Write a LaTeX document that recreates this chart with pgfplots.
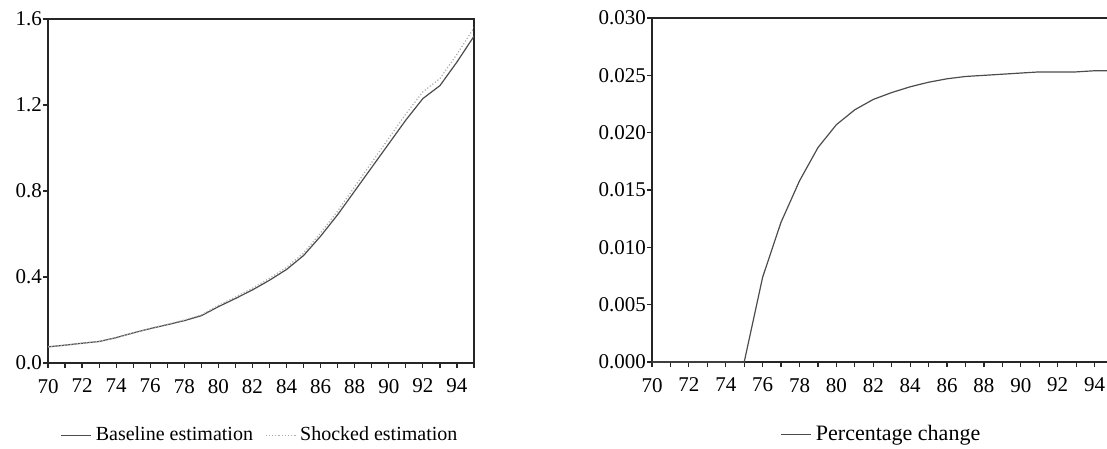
\documentclass[border=0pt]{standalone}
\usepackage{pgfplots}
\pgfplotsset{compat=1.18}
\usepackage{fontspec}
\setmainfont{Liberation Serif}
\pgfplotstableread{
year base shock
70 0.075 0.075
71 0.083 0.083
72 0.092 0.092
73 0.100 0.100
74 0.118 0.118
75 0.140 0.140
76 0.160 0.161
77 0.178 0.180
78 0.197 0.200
79 0.220 0.224
80 0.262 0.268
81 0.300 0.307
82 0.340 0.348
83 0.385 0.394
84 0.435 0.445
85 0.500 0.512
86 0.590 0.605
87 0.690 0.707
88 0.800 0.820
89 0.910 0.933
90 1.020 1.046
91 1.130 1.158
92 1.230 1.261
93 1.290 1.323
94 1.400 1.436
95 1.520 1.559
}\levels
\pgfplotstableread{
year pc
70 0
71 0
72 0
73 0
74 0
75 0
76 0.0074
77 0.0122
78 0.0158
79 0.0187
80 0.0207
81 0.0220
82 0.0229
83 0.0235
84 0.0240
85 0.0244
86 0.0247
87 0.0249
88 0.0250
89 0.0251
90 0.0252
91 0.0253
92 0.0253
93 0.0253
94 0.0254
95 0.0254
}\pct
\definecolor{ln}{gray}{0.30}
\definecolor{ax}{gray}{0.15}
\pgfplotsset{
  evstyle/.style={
    scale only axis,
    axis line style={ax, line width=0.7pt},
    xmin=70, ymin=0,
    xtick={70,72,...,94},
    minor xtick={71,73,...,95},
    tick pos=left,
    tick align=outside,
    major tick length=2.5pt,
    minor tick length=2.5pt,
    every tick/.style={ax, line width=0.6pt},
    /pgf/number format/assume math mode=true,
    tick label style={font=\fontsize{10.5}{12}\selectfont},
    xticklabel style={yshift=-2pt},
    yticklabel style={xshift=3pt},
    scaled y ticks=false,
    legend style={draw=none, fill=none, legend columns=2,
      /tikz/every even column/.append style={column sep=4pt}},
    legend image code/.code={\draw[##1] (0pt,0pt) -- (15pt,0pt);},
  }
}
\begin{document}
\begin{tikzpicture}
\path[use as bounding box] (0pt,0pt) rectangle (553.5pt,-224.5pt);
\begin{axis}[evstyle,
  at={(24pt,-181.5pt)}, anchor=south west,
  width=213pt, height=172pt,
  xmax=95,
  ymax=1.6, ytick={0,0.4,...,1.6},
  yticklabel style={/pgf/number format/.cd, fixed, fixed zerofill, precision=1},
  legend style={at={(0.5,-0.21)}, anchor=center, font=\fontsize{10}{12}\selectfont},
]
\addplot[ln, line width=0.6pt] table[x=year, y=base] {\levels};
\addlegendentry{Baseline estimation}
\addplot[gray!65, densely dotted, line width=0.6pt] table[x=year, y=shock] {\levels};
\addlegendentry{Shocked estimation}
\end{axis}
\begin{axis}[evstyle,
  at={(326pt,-181pt)}, anchor=south west,
  width=230.5pt, height=172pt,
  xmax=95,
  ymax=0.030, ytick={0,0.005,...,0.0301},
  yticklabel style={/pgf/number format/.cd, fixed, fixed zerofill, precision=3},
  legend style={at={(0.5,-0.21)}, anchor=center, font=\fontsize{11}{13}\selectfont},
]
\addplot[ln, line width=0.6pt] table[x=year, y=pc] {\pct};
\addlegendentry{Percentage change}
\end{axis}
\end{tikzpicture}
\end{document}
